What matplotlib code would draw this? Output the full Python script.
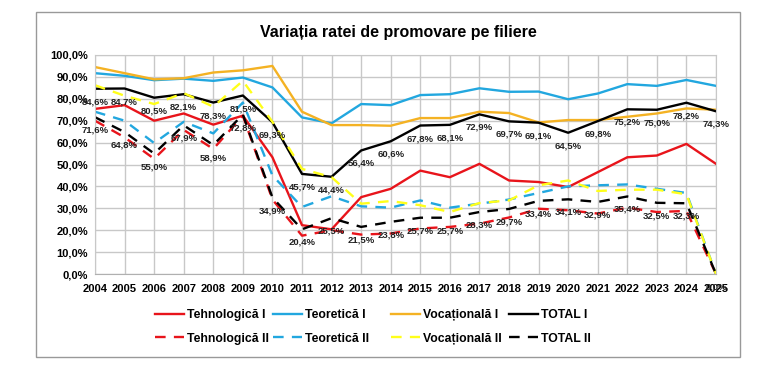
import matplotlib.pyplot as plt
from matplotlib.patches import Rectangle
from matplotlib.ticker import FuncFormatter

years = list(range(2004, 2026))

# first series (I)
tehno_1 = [75.4, 77.1, 70.0, 73.3, 68.2, 72.3, 53.3, 22.3, 20.4, 35.1, 38.9,
           47.2, 44.2, 50.3, 42.7, 42.0, 39.7, 46.5, 53.3, 54.1, 59.4, 50.3]
teor_1 = [91.7, 90.5, 88.5, 89.2, 88.2, 89.7, 85.2, 71.5, 68.8, 77.6, 77.1,
          81.7, 82.1, 84.8, 83.2, 83.3, 79.8, 82.4, 86.7, 85.9, 88.6, 85.9]
voc_1 = [94.5, 91.7, 88.9, 89.4, 92.0, 93.0, 95.0, 74.1, 68.0, 68.0, 67.7,
         71.2, 71.2, 74.1, 73.5, 69.2, 70.3, 70.3, 71.8, 73.3, 75.6, 75.0]
total_1 = [84.6, 84.7, 80.5, 82.1, 78.3, 81.5, 69.3, 45.7, 44.4, 56.4, 60.6,
           67.8, 68.1, 72.9, 69.7, 69.1, 64.5, 69.8, 75.2, 75.0, 78.2, 74.3]

# second series (II)
tehno_2 = [70.0, 62.4, 52.6, 65.8, 57.1, 72.3, 34.0, 17.5, 20.0, 18.0, 18.5,
           20.8, 21.5, 23.0, 25.8, 29.8, 29.1, 27.6, 30.3, 28.3, 28.8, 0.0]
teor_2 = [74.1, 70.0, 59.8, 69.5, 64.2, 78.3, 45.0, 30.6, 35.5, 30.9, 30.3,
          33.6, 30.3, 32.1, 34.0, 37.0, 40.0, 40.5, 40.9, 38.9, 37.0, 0.0]
voc_2 = [86.2, 81.4, 77.6, 82.6, 76.4, 88.2, 69.5, 48.0, 44.2, 32.1, 33.3,
         31.4, 28.3, 32.4, 33.6, 40.5, 42.7, 37.9, 38.5, 38.5, 36.4, 0.0]
total_2 = [71.6, 64.8, 55.0, 67.9, 58.9, 72.8, 34.9, 20.4, 25.5, 21.5, 23.8,
           25.7, 25.7, 28.3, 29.7, 33.4, 34.1, 32.9, 35.4, 32.5, 32.3, 0.0]

RED = "#E8141B"
BLUE = "#22A7DF"
ORANGE = "#F4B223"
YELLOW = "#FFFF1A"
BLACK = "#000000"

plt.rcParams["font.family"] = ["Liberation Sans", "DejaVu Sans"]
plt.rcParams["font.weight"] = "bold"

fig = plt.figure(figsize=(7.58, 3.9), dpi=100)
W, H = 758, 390

# outer chart border
fig.patches.append(Rectangle((36 / W, 1 - 357 / H), (740 - 36) / W, (357 - 12) / H,
                             transform=fig.transFigure, fill=False,
                             edgecolor="#999999", linewidth=1.0))

ax = fig.add_axes([95 / W, 1 - 274 / H, (716 - 95) / W, (274 - 55) / H])

dash = (0, (4.5, 3.5))
series = [
    (tehno_1, RED, "-", "Tehnologică I"),
    (teor_1, BLUE, "-", "Teoretică I"),
    (voc_1, ORANGE, "-", "Vocațională I"),
    (total_1, BLACK, "-", "TOTAL I"),
    (tehno_2, RED, dash, "Tehnologică II"),
    (teor_2, BLUE, dash, "Teoretică II"),
    (voc_2, YELLOW, dash, "Vocațională II"),
    (total_2, BLACK, dash, "TOTAL II"),
]
lines = {}
for vals, col, ls, name in series:
    ln, = ax.plot(years, vals, color=col, linestyle=ls, linewidth=1.7, label=name)
    lines[name] = ln

# value labels for the totals
for vals in (total_1, total_2):
    for x, v in zip(years, vals):
        ax.annotate(f"{v:.1f}%".replace(".", ","), (x, v), xytext=(0, -13),
                    textcoords="offset pixels", ha="center", va="center",
                    fontsize=6.8, fontweight="bold", color="#222222")

ax.set_xlim(2004, 2025)
ax.set_ylim(0, 100)
ax.set_xticks(years)
ax.set_yticks(range(0, 101, 10))
ax.yaxis.set_major_formatter(FuncFormatter(lambda v, p: f"{v:.1f}%".replace(".", ",")))
ax.tick_params(axis="x", length=0, labelsize=8, pad=7)
ax.tick_params(axis="y", length=0, labelsize=8, pad=5)
for lab in ax.get_xticklabels() + ax.get_yticklabels():
    lab.set_fontweight("bold")
ax.grid(True, color="#C8C8C8", linewidth=1.0)
ax.set_axisbelow(True)
for sp in ax.spines.values():
    sp.set_color("#C8C8C8")
ax.spines["bottom"].set_color("#B0B0B0")

fig.text(398 / W, 1 - 32 / H, "Variația ratei de promovare pe filiere",
         ha="center", va="center", fontsize=11.5, fontweight="bold")

# legend: four equal-width columns, one legend per column
columns = [("Tehnologică I", "Tehnologică II"), ("Teoretică I", "Teoretică II"),
           ("Vocațională I", "Vocațională II"), ("TOTAL I", "TOTAL II")]
col_x = [155, 273, 391, 509]
for names, cx in zip(columns, col_x):
    fig.legend([lines[n] for n in names], names, loc="upper left",
               bbox_to_anchor=(cx / W, 1 - 309 / H), frameon=False,
               borderaxespad=0, borderpad=0, handlelength=2.4,
               handletextpad=0.25, labelspacing=0.95,
               prop={"weight": "bold", "size": 8.8})

fig.savefig("out.png", dpi=100)
